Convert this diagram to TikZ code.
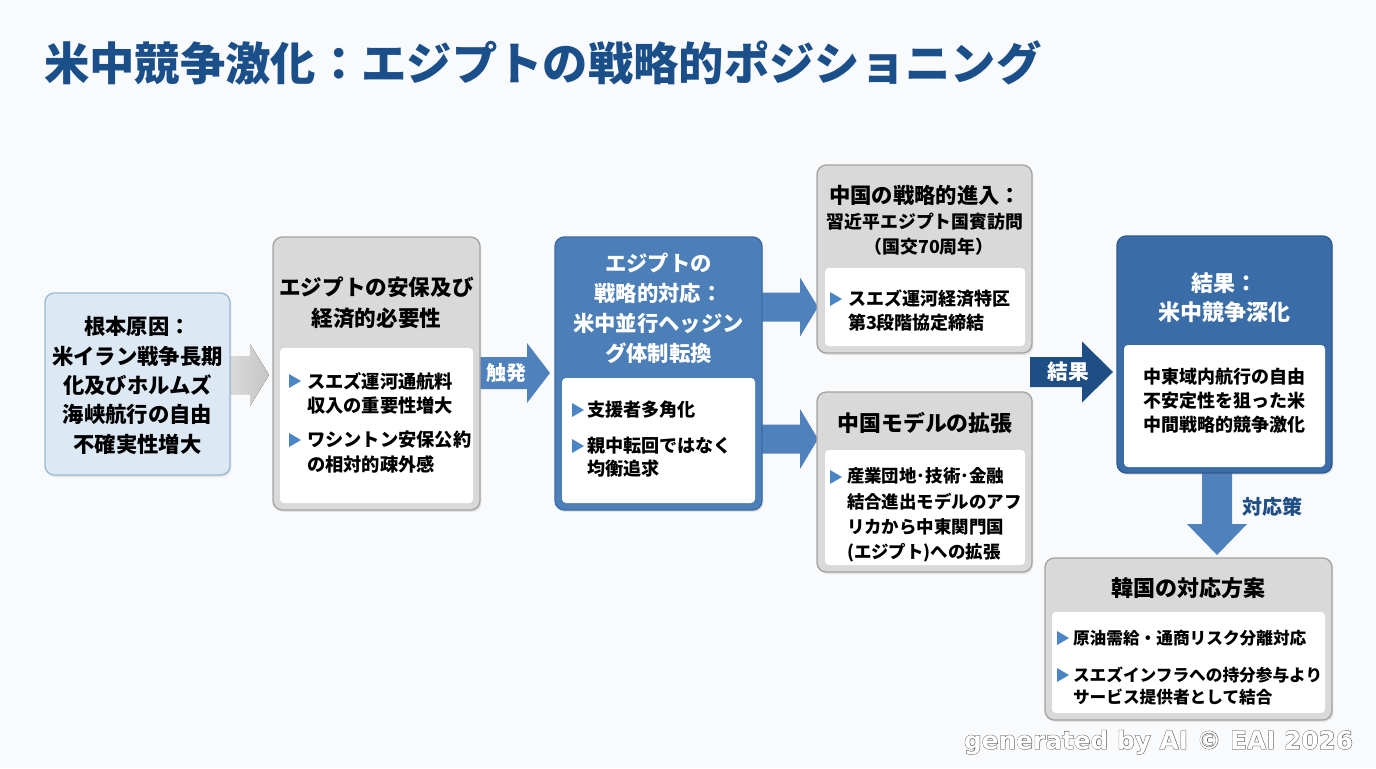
\documentclass[tikz,border=0pt]{standalone}
\usepackage{fontspec}
\setmainfont{Noto Sans CJK JP}
\newfontfamily\wmfont{DejaVu Sans}
\newfontfamily\wmout{DejaVu Sans}[BoldFeatures={FakeBold=3}]
\usetikzlibrary{shadows}
\definecolor{titleblue}{HTML}{1B4F8A}
\definecolor{lbfill}{HTML}{DCE8F3}
\definecolor{lbline}{HTML}{9DBAD5}
\definecolor{grayhead}{HTML}{D9D9D9}
\definecolor{grayline}{HTML}{A3A3A3}
\definecolor{midblue}{HTML}{4C7EB7}
\definecolor{midblueline}{HTML}{3B6CA3}
\definecolor{resblue}{HTML}{3A6DA7}
\definecolor{resline}{HTML}{2C5A8F}
\definecolor{arrowblue}{HTML}{4F81BD}
\definecolor{darkblue}{HTML}{1F4E84}
\definecolor{bulc}{HTML}{4A86C6}
\definecolor{bg}{HTML}{F9FAFC}
\definecolor{wmgray}{HTML}{555555}
\newcommand\fs[2]{\fontsize{#1}{#2}\selectfont\bfseries}
\newcommand\pbox[6]{\node[#2, minimum width={(#5-#3)*0.75pt}, minimum height={(#6-#4)*0.75pt}] (#1) at ({(#3+#5)/2},{(#4+#6)/2}) {};}
\newcommand\bultri[2]{\fill[bulc] ({#1-6},{#2-7}) -- ({#1+6},{#2}) -- ({#1-6},{#2+7}) -- cycle;}
\newcommand\rarrow[7]{\fill[#1] (#2,{#5-#6}) -- (#4,{#5-#6}) -- (#4,{#5-#7}) -- (#3,#5) -- (#4,{#5+#7}) -- (#4,{#5+#6}) -- (#2,{#5+#6}) -- cycle;}
\tikzset{
  boxbase/.style={rectangle, rounded corners=7pt, line width=1pt, inner sep=0pt, outer sep=0pt,
    drop shadow={opacity=0.18, shadow xshift=1pt, shadow yshift=-1.5pt}},
  causebox/.style={boxbase, fill=lbfill, draw=lbline},
  graybox/.style={boxbase, fill=grayhead, draw=grayline},
  bluebox/.style={boxbase, fill=midblue, draw=midblueline},
  resbox/.style={boxbase, fill=resblue, draw=resline},
  panel/.style={rectangle, rounded corners=3pt, fill=white, inner sep=0pt, outer sep=0pt},
  hd/.style={font=\fs{16}{23}, align=center, text=black},
  bl/.style={align=left, anchor=west, text=black},
}
\begin{document}
\begin{tikzpicture}[x=0.75pt,y=-0.75pt, every node/.style={inner sep=0pt, outer sep=0pt}]
\fill[bg] (0,0) rectangle (1376,768);
\useasboundingbox (0,0) rectangle (1376,768);

% title
\node[anchor=west, text=titleblue, font=\fs{34}{40}] (title) at (44,63) {米中競争激化：エジプトの戦略的ポジショニング};

% arrows (drawn first, behind boxes)
\rarrow{left color=gray!28, right color=gray!45}{228}{269}{250}{375}{19}{31}
\rarrow{arrowblue}{476}{550}{527}{373}{16}{30}
\rarrow{arrowblue}{758}{818}{800}{307}{14.5}{29.5}
\rarrow{arrowblue}{758}{818}{800}{439}{14.5}{30}
\rarrow{darkblue}{1030}{1113}{1082}{372}{15}{30.5}
\fill[arrowblue] (1202,470) -- (1232,470) -- (1232,524) -- (1247,524) -- (1217,555) -- (1187,524) -- (1202,524) -- cycle;

% box 1
\pbox{cause}{causebox}{45}{293}{230}{475}
\node[hd, font=\fs{16}{22}] (causet) at (137.5,385.5) {根本原因：\\米イラン戦争長期\\化及びホルムズ\\海峡航行の自由\\不確実性増大};

% box 2
\pbox{need}{graybox}{273}{237}{480}{510}
\pbox{needp}{panel}{280}{348}{473}{503}
\node[hd, font=\fs{16.2}{23.2}] (needh) at (376.5,302.5) {エジプトの安保及び\\経済的必要性};
\bultri{295}{381}
\node[bl, font=\fs{13.7}{18.4}] (need1) at (307,393.5) {スエズ運河通航料\\収入の重要性増大};
\bultri{295}{440}
\node[bl, font=\fs{13.7}{18.4}] (need2) at (307,452) {ワシントン安保公約\\の相対的疎外感};

% arrow label
\node[text=white, font=\fs{15}{18}] (trig) at (506,373) {触発};

% box 3
\pbox{resp}{bluebox}{555}{237}{762}{510}
\pbox{respp}{panel}{562}{378}{755}{503}
\node[hd, text=white, font=\fs{16}{22.5}] (resph) at (658.5,308.5) {エジプトの\\戦略的対応：\\米中並行ヘッジン\\グ体制転換};
\bultri{578}{410}
\node[bl, font=\fs{13.6}{17.3}] (resp1) at (587,410) {支援者多角化};
\bultri{578}{446}
\node[bl, font=\fs{13.6}{17.3}] (resp2) at (587,457.5) {親中転回ではなく\\均衡追求};

% box 4
\pbox{china}{graybox}{817}{165}{1032}{353}
\pbox{chinap}{panel}{825}{268}{1025}{346}
\node[hd, font=\fs{16}{20}] (chinah1) at (925,195) {中国の戦略的進入：};
\node[hd, font=\fs{13.4}{19}] (chinah2) at (925,222) {習近平エジプト国賓訪問};
\node[hd, font=\fs{13.4}{19}] (chinah3) at (929,247) {（国交70周年）};
\bultri{836}{299}
\node[bl, font=\fs{13.5}{18}] (china1) at (848,311) {スエズ運河経済特区\\第3段階協定締結};

% box 5
\pbox{model}{graybox}{817}{392}{1032}{572}
\pbox{modelp}{panel}{825}{450}{1025}{565}
\node[hd, font=\fs{16.4}{20}] (modelh) at (925,423) {中国モデルの拡張};
\bultri{836}{477}
\node[bl, font=\fs{13.1}{19}] (model1) at (847,515) {産業団地･技術･金融\\結合進出モデルのアフ\\リカから中東関門国\\(エジプト)への拡張};

% arrow label
\node[text=white, font=\fs{15.5}{18}] (reslbl) at (1068,372) {結果};

% box 6
\pbox{res}{resbox}{1117}{236}{1332}{473}
\pbox{resp0}{panel}{1124}{345}{1325}{467}
\node[hd, text=white, font=\fs{16.5}{21.75}] (resh) at (1224,297.5) {結果：\\米中競争深化};
\node[hd, font=\fs{13.5}{18}] (rest) at (1224,401) {中東域内航行の自由\\不安定性を狙った米\\中間戦略的競争激化};

% down arrow label
\node[text=darkblue, font=\fs{15}{18}] (cnt) at (1272,507) {対応策};

% box 7
\pbox{korea}{graybox}{1045}{558}{1332}{720}
\pbox{koreap}{panel}{1052}{612}{1325}{713}
\node[hd, font=\fs{16.5}{20}] (koreah) at (1188,588) {韓国の対応方案};
\bultri{1063}{638}
\node[bl, font=\fs{12.5}{16.5}] (korea1) at (1073,638) {原油需給・通商リスク分離対応};
\bultri{1063}{675}
\node[bl, font=\fs{12.5}{16.5}] (korea2) at (1073,686) {スエズインフラへの持分参与より\\サービス提供者として結合};

% watermark: outline under, white fill over
\node[anchor=base west, text=wmgray, font={\wmout\bfseries\fontsize{18.6}{20}\selectfont}] (wmo) at (964,749) {generated by AI © EAI 2026};
\node[anchor=base west, text=white, font={\wmfont\bfseries\fontsize{18.6}{20}\selectfont}] (wm) at (964,749) {generated by AI © EAI 2026};
\end{tikzpicture}
\end{document}
